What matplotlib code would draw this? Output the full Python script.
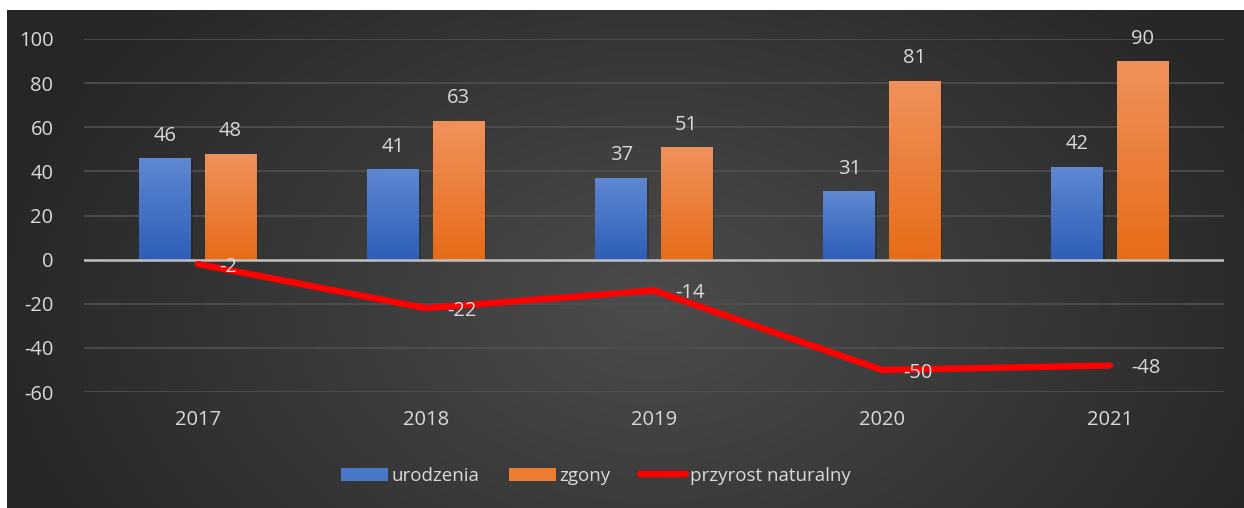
import matplotlib.pyplot as plt
import matplotlib.patches as mpatches
from matplotlib.lines import Line2D
import numpy as np

years = ["2017", "2018", "2019", "2020", "2021"]
urodzenia = [46, 41, 37, 31, 42]
zgony = [48, 63, 51, 81, 90]
przyrost = [-2, -22, -14, -50, -48]

TXT = "#d9d9d9"
FS = 14.5
plt.rcParams['font.family'] = ['Open Sans', 'DejaVu Sans']
plt.rcParams['axes.unicode_minus'] = False

fig = plt.figure(figsize=(12.44, 5.08), dpi=100, facecolor="white")

# dark radial-gradient panel behind everything
bg = fig.add_axes([7 / 1244, 0, 1 - 7 / 1244, 1 - 10 / 508], zorder=-10)
yy, xx = np.mgrid[0:200, 0:500]
cx, cy = 260, 80
r = np.sqrt(((xx - cx) / 500) ** 2 + ((yy - cy) / 200) ** 2 * 0.35)
r = np.clip(r / 0.55, 0, 1)
c0, c1 = np.array([0x4c, 0x4c, 0x4c]) / 255, np.array([0x26, 0x26, 0x26]) / 255
img = c0[None, None, :] * (1 - r[..., None]) + c1[None, None, :] * r[..., None]
bg.imshow(img, aspect="auto", extent=[0, 1, 0, 1], origin="lower")
bg.set_axis_off()

ax = fig.add_axes([84 / 1244, 1 - 392 / 508, 1140 / 1244, 353 / 508])
ax.set_facecolor("none")
x = np.arange(len(years))
w = 0.228
off = 0.143


def gradient_bars(bars, top, bottom):
    grad = np.linspace(0, 1, 100)[:, None, None]
    top = np.array(top) / 255
    bottom = np.array(bottom) / 255
    im_data = bottom * (1 - grad) + top * grad
    for b in bars:
        x0, y0 = b.get_x(), b.get_y()
        bw, bh = b.get_width(), b.get_height()
        # soft shadow
        ax.add_patch(mpatches.Rectangle((x0 + 0.006, y0 - 0.8), bw, bh, color="black",
                                        alpha=0.18, zorder=2, lw=0))
        im = ax.imshow(im_data, aspect="auto", extent=[x0, x0 + bw, y0, y0 + bh],
                       origin="lower", zorder=3)
        im.set_clip_path(b)


b1 = ax.bar(x - off, urodzenia, w, color="#4472c4", zorder=3)
b2 = ax.bar(x + off, zgony, w, color="#ed7d31", zorder=3)
gradient_bars(b1, (0x5f, 0x88, 0xd2), (0x2e, 0x5e, 0xb8))
gradient_bars(b2, (0xf0, 0x91, 0x5c), (0xe6, 0x6c, 0x18))

for bars, vals in ((b1, urodzenia), (b2, zgony)):
    for b, v in zip(bars, vals):
        ax.annotate(str(v), (b.get_x() + b.get_width() / 2, v), xytext=(0, 9),
                    textcoords="offset points", ha="center", va="bottom",
                    color=TXT, fontsize=FS)

ax.plot(x, przyrost, color="#ff0000", lw=4.6, solid_capstyle="round",
        solid_joinstyle="round", zorder=5)
for xi, v in zip(x, przyrost):
    ax.annotate(str(v), (xi, v), xytext=(15, -2), textcoords="offset points",
                ha="left", va="center", color=TXT, fontsize=FS, zorder=6)

ax.set_xlim(-0.5, len(years) - 0.5)
ax.set_ylim(-60, 100)
ax.set_yticks(range(-60, 101, 20))
ax.yaxis.grid(True, color="#505050", lw=1.2, zorder=0)
ax.axhline(0, color="#bfbfbf", lw=1.8, zorder=4)
ax.set_xticks(x)
ax.set_xticklabels(years)
ax.tick_params(axis="both", length=0, colors=TXT, labelsize=FS)
ax.tick_params(axis="y", pad=22)
ax.tick_params(axis="x", pad=13)
for s in ax.spines.values():
    s.set_visible(False)

handles = [mpatches.Patch(facecolor="#4a78c8", edgecolor="none"),
           mpatches.Patch(facecolor="#ee7d32", edgecolor="none"),
           Line2D([0], [0], color="#ff0000", lw=4.6, solid_capstyle="round")]
leg = fig.legend(handles, ["urodzenia", "zgony", "przyrost naturalny"],
                 loc="center", bbox_to_anchor=(596 / 1244, 1 - 476 / 508), ncol=3,
                 frameon=False, fontsize=13.5, handlelength=2.5, handleheight=0.75,
                 handletextpad=0.2, columnspacing=1.55)
for t in leg.get_texts():
    t.set_color(TXT)

fig.savefig("out.png", dpi=100, facecolor="white")
